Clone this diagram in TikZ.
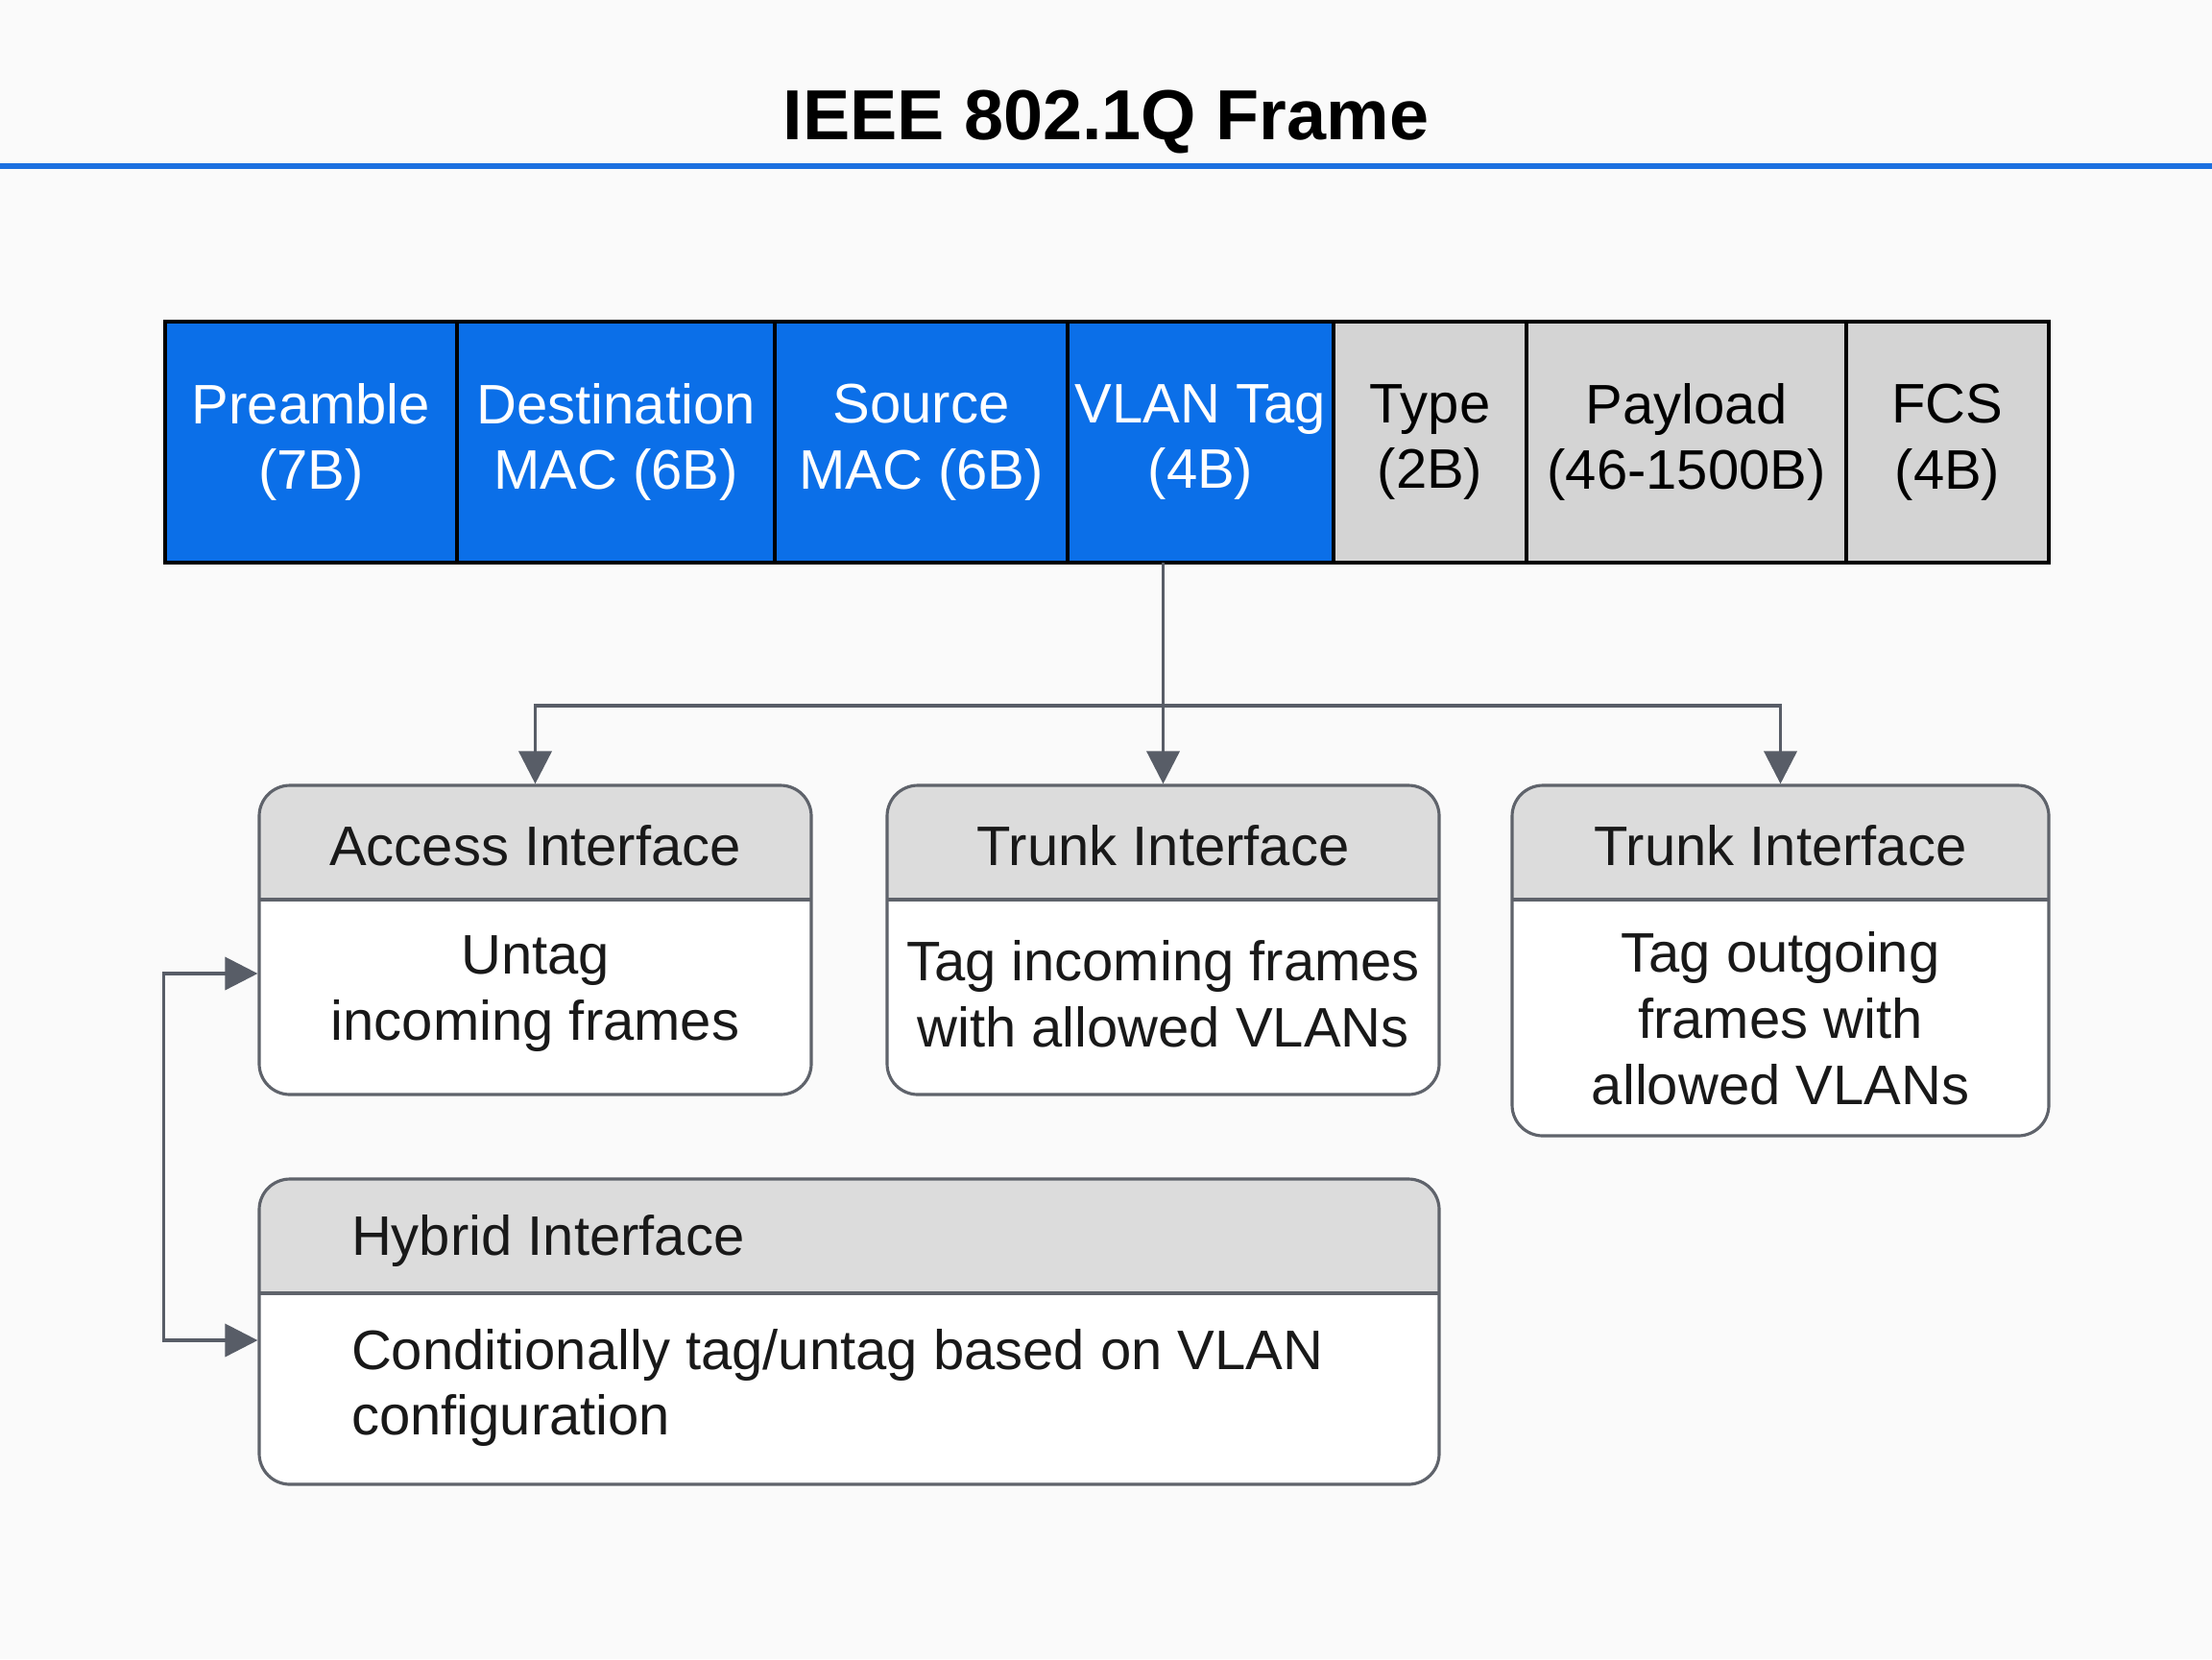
\documentclass[tikz,border=0pt]{standalone}
\usepackage{fontspec}
\setmainfont{Liberation Sans}
\usetikzlibrary{positioning, arrows.meta}

\definecolor{pagebg}{RGB}{250,250,250}
\definecolor{titleblue}{RGB}{28,112,224}
\definecolor{tagblue}{RGB}{11,111,232}
\definecolor{fieldgray}{RGB}{212,212,212}
\definecolor{headgray}{RGB}{220,220,220}
\definecolor{boxline}{RGB}{95,99,107}
\definecolor{linkgray}{RGB}{88,93,103}

\begin{document}
\begin{tikzpicture}[
		field/.style={draw=black, line width=1.2pt, outer sep=0pt, inner sep=0pt, minimum height=2.51cm, align=center, font=\fontsize{16.5}{19.6}\selectfont},
		tagfield/.style={field, fill=tagblue, text=white},
		plainfield/.style={field, fill=fieldgray, text=black},
		ifbox/.style={draw=boxline, line width=0.9pt, rounded corners=0.32cm, fill=white, inner sep=0pt,
			path picture={
				\fill[headgray, sharp corners] (path picture bounding box.north west) rectangle ([yshift=-1.19cm]path picture bounding box.north east);
				\draw[boxline, line width=0.9pt, sharp corners] ([yshift=-1.19cm]path picture bounding box.north west) -- ([yshift=-1.19cm]path picture bounding box.north east);
			}},
		headtext/.style={inner sep=0pt, font=\fontsize{16.5}{19.6}\selectfont, text=black!90},
		bodytext/.style={inner sep=0pt, align=center, font=\fontsize{16.5}{19.6}\selectfont, text=black!90},
		link/.style={draw=linkgray, line width=1pt, {Triangle[width=0.34cm, length=0.34cm]}-{Triangle[width=0.34cm, length=0.34cm]}},
		tolink/.style={draw=linkgray, line width=1pt, -{Triangle[width=0.34cm, length=0.34cm]}}
		]
		
		\fill[pagebg] (0,0) rectangle (23.04,-17.28);
		\useasboundingbox (0,0) rectangle (23.04,-17.28);
		
		% title
		\node[font=\fontsize{21}{25}\selectfont\bfseries] (title) at (11.52,-1.27) {IEEE 802.1Q Frame};
		\draw[titleblue, line width=1.7pt] (0,-1.73) -- (23.04,-1.73);
		
		% frame fields
		\node[tagfield, minimum width=3.04cm] (pre) at (3.24,-4.605) {Preamble\\(7B)};
		\node[tagfield, minimum width=3.31cm, right=0pt of pre] (dst) {Destination\\MAC (6B)};
		\node[tagfield, minimum width=3.05cm, right=0pt of dst] (src) {Source\\MAC (6B)};
		\node[tagfield, minimum width=2.77cm, right=0pt of src] (vlan) {VLAN Tag\\(4B)};
		\node[plainfield, minimum width=2.01cm, right=0pt of vlan] (type) {Type\\(2B)};
		\node[plainfield, minimum width=3.33cm, right=0pt of type] (pay) {Payload\\(46-1500B)};
		\node[plainfield, minimum width=2.11cm, right=0pt of pay] (fcs) {FCS\\(4B)};
		
		% interface boxes
		\node[ifbox, minimum width=5.75cm, minimum height=3.22cm] (acc) at (5.575,-9.79) {};
		\node[ifbox, minimum width=5.75cm, minimum height=3.22cm] (trk) at (12.115,-9.79) {};
		\node[ifbox, minimum width=5.59cm, minimum height=3.65cm] (out) at (18.545,-10.005) {};
		\node[ifbox, minimum width=12.29cm, minimum height=3.18cm] (hyb) at (8.845,-13.87) {};
		
		\node[headtext] (accHead) at ([yshift=-0.64cm]acc.north) {Access Interface};
		\node[bodytext] (accBody) at ([yshift=-2.19cm]acc.north) {Untag\\incoming frames};
		\node[headtext] (trkHead) at ([yshift=-0.64cm]trk.north) {Trunk Interface};
		\node[bodytext] (trkBody) at ([yshift=-2.19cm]trk.north) {Tag incoming frames\\with allowed VLANs};
		\node[headtext] (outHead) at ([yshift=-0.64cm]out.north) {Trunk Interface};
		\node[bodytext] (outBody) at ([yshift=-2.44cm]out.north) {Tag outgoing\\frames with\\allowed VLANs};
		\node[headtext, anchor=west] (hybHead) at ([xshift=0.97cm, yshift=-0.66cm]hyb.north west) {Hybrid Interface};
		\node[bodytext, align=left, anchor=west] (hybBody) at ([xshift=0.97cm, yshift=-2.19cm]hyb.north west) {Conditionally tag/untag based on VLAN\\configuration};
		
		% connectors
		\coordinate (bus) at ([yshift=-1.49cm]vlan.south -| trk.north);
		\draw[tolink] (vlan.south -| trk.north) -- (trk.north);
		\draw[link] (acc.north) |- (bus) -| (out.north);
		\draw[link] ([yshift=-0.35cm]acc.west) -- ++(-0.98,0) |- ([yshift=-0.09cm]hyb.west);
	\end{tikzpicture}
\end{document}
